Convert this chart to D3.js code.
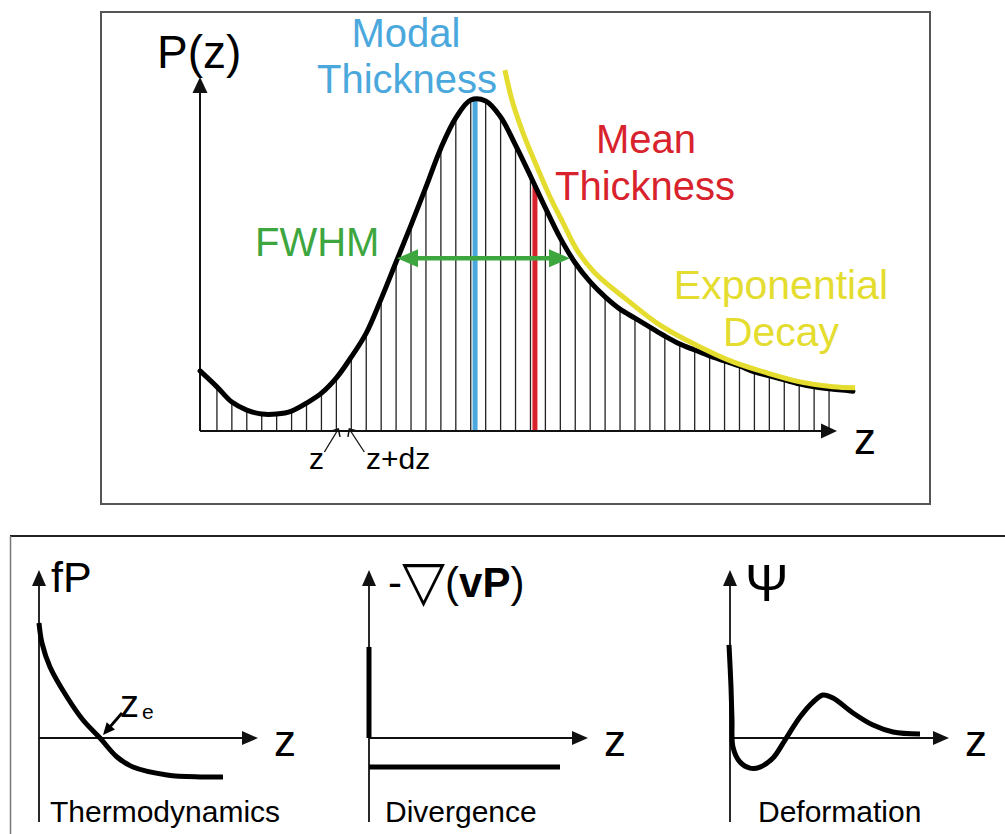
<!DOCTYPE html>
<html><head><meta charset="utf-8">
<script src="https://cdn.jsdelivr.net/npm/d3@7"></script>
<style>
body{margin:0;background:#fff}
svg{display:block}
text{font-family:"Liberation Sans",Arial,Helvetica,sans-serif}
</style>
</head><body>
<svg id="c" width="1005" height="834"></svg>
<script>
// ---------------- DATA ----------------
// Top panel: thickness distribution P(z), sampled at bins z = 1..42 (dz = 1)
const hatchZ = d3.range(1, 43);
const hatchP = [13.3,8.7,6.3,5.1,5.1,6.0,8.4,11.4,16.0,22.3,29.5,39.8,50.9,62.0,73.5,85.2,94.3,99.7,99.4,94.6,86.1,76.8,67.2,58.1,50.6,44.9,40.4,36.7,34.0,31.3,28.6,26.2,24.4,22.6,21.1,19.6,17.8,16.6,15.4,14.2,13.3,12.7];
const curveStart = {z: -0.13, p: 18.1};
const curveEnd = {z: 43.6, p: 12.0};
// Exponential decay (yellow)
const expZ = [20.29,20.76,21.50,22.44,23.31,24.18,25.12,26.32,28.47,30.68,33.36,35.57,37.84,40.05,42.26,43.74];
const expP = [108.7,99.7,89.8,79.5,70.5,62.7,54.5,47.6,39.5,31.9,25.3,20.8,17.5,14.8,13.3,13.0];
// Markers
const modalZ = 18.29, modalP = 100;
const meanZ = 22.3, meanP = 74;
const fwhmZ = [13.06, 24.65], fwhmP = 52;
const dzBins = [9, 10];

// Bottom panels
const thermoZ = [0,0.15,0.55,1.4,2.2,3.05,3.9,4.7,6.4,8.05,9.2];
const thermoF = [6.85,5.65,4.23,2.44,1.07,0,-1.13,-1.73,-2.2,-2.32,-2.32];
const zeCross = 3.05;
const divWallZ = [0, 0], divWallV = [0, 5.42];
const divFlatZ = [0, 9.55], divFlatV = [-1.73, -1.73];
const deformZ = [-0.05,0.05,0.1,0.15,0.5,1.0,1.5,2.15,2.75,3.5,4.15,4.65,5.15,6.15,7.15,8.15,9.5];
const deformPsi = [5.54,3.04,1.07,-0.54,-1.43,-1.79,-1.73,-1.19,-0.12,1.25,2.14,2.56,2.38,1.49,0.77,0.36,0.24];

const BLUE = "#4aa8dc", RED = "#d8232d", GREEN = "#3ea63e", YELLOW = "#e4dc2e";

// ---------------- DRAW ----------------
const svg = d3.select("#c");

svg.append("rect").attr("x",101).attr("y",12).attr("width",829).attr("height",492)
  .attr("fill","none").attr("stroke","#555").attr("stroke-width",2);
svg.append("line").attr("x1",10).attr("y1",536).attr("x2",1005).attr("y2",536)
  .attr("stroke","#222").attr("stroke-width",2);
svg.append("line").attr("x1",10.5).attr("y1",536).attr("x2",10.5).attr("y2",834)
  .attr("stroke","#777").attr("stroke-width",1.5);

function arrowHead(sel, tipX, tipY, angle, len, hw, color) {
  const c = Math.cos(angle), s = Math.sin(angle);
  const bx = tipX - c*len, by = tipY - s*len;
  const pts = [[tipX,tipY],[bx - s*hw, by + c*hw],[bx + s*hw, by - c*hw]];
  sel.append("path").attr("d", "M" + pts.map(p=>p.join(",")).join("L") + "Z")
    .attr("fill", color).attr("stroke","none");
}
const T = (sel, tx, ty, str, size, color, anchor) => sel.append("text").attr("x",tx).attr("y",ty)
  .attr("font-size",size).attr("fill",color||"#000").attr("text-anchor",anchor||"start").text(str);

// ---- top panel ----
const x = d3.scaleLinear().domain([0, 43]).range([202, 202 + 43*14.93]);
const y = d3.scaleLinear().domain([0, 100]).range([431, 99]);
const topG = svg.append("g");

const binData = hatchZ.map((z,i)=>({z, p: hatchP[i]}));
topG.selectAll("line.hatch").data(binData).join("line").attr("class","hatch")
  .attr("x1", d=>x(d.z)).attr("x2", d=>x(d.z))
  .attr("y1", y(0)).attr("y2", d=>y(d.p))
  .attr("stroke","#222").attr("stroke-width",1.3);

topG.append("line").attr("x1",x(modalZ)).attr("x2",x(modalZ)).attr("y1",y(0)).attr("y2",y(modalP))
  .attr("stroke",BLUE).attr("stroke-width",5);
topG.append("line").attr("x1",x(meanZ)).attr("x2",x(meanZ)).attr("y1",y(0)).attr("y2",y(meanP))
  .attr("stroke",RED).attr("stroke-width",5);

const xTip = x.invert(837);
topG.append("line").attr("x1",200).attr("y1",y(0)).attr("x2",x(xTip)-14).attr("y2",y(0))
  .attr("stroke","#111").attr("stroke-width",2);
arrowHead(topG, x(xTip), y(0), 0, 16, 7.5, "#111");
topG.append("line").attr("x1",200).attr("y1",y(0)).attr("x2",200).attr("y2",92)
  .attr("stroke","#111").attr("stroke-width",2);
arrowHead(topG, 200, 77, -Math.PI/2, 16, 7.5, "#111");

const pts = [curveStart, ...binData, curveEnd];
const line = d3.line().x(d=>x(d.z)).y(d=>y(d.p)).curve(d3.curveCatmullRom.alpha(0.5));
topG.append("path").attr("d", line(pts)).attr("fill","none")
  .attr("stroke","#000").attr("stroke-width",5).attr("stroke-linecap","round");

const expPts = expZ.map((z,i)=>({z, p: expP[i]}));
topG.append("path").attr("d", line(expPts)).attr("fill","none")
  .attr("stroke",YELLOW).attr("stroke-width",5);

const fy = y(fwhmP), fx1 = x(fwhmZ[0]), fx2 = x(fwhmZ[1]);
topG.append("line").attr("x1",fx1+18).attr("x2",fx2-18).attr("y1",fy).attr("y2",fy)
  .attr("stroke",GREEN).attr("stroke-width",4.5);
arrowHead(topG, fx1, fy, Math.PI, 21, 9, GREEN);
arrowHead(topG, fx2, fy, 0, 21, 9, GREEN);

function smallArrow(sel, tx, ty, fx, fy) {
  const a = Math.atan2(ty-fy, tx-fx);
  sel.append("line").attr("x1",fx).attr("y1",fy).attr("x2",tx).attr("y2",ty)
    .attr("stroke","#111").attr("stroke-width",1.3);
  const L = 8, w = 0.75;
  const p1 = [tx - L*Math.cos(a-w), ty - L*Math.sin(a-w)];
  const p2 = [tx - L*Math.cos(a+w), ty - L*Math.sin(a+w)];
  sel.append("path").attr("d",`M${p1}L${tx},${ty}L${p2}`).attr("fill","none")
    .attr("stroke","#111").attr("stroke-width",1.5);
}
smallArrow(topG, x(dzBins[0])+2, y(0)-2, x(dzBins[0])-12, y(0)+21);
smallArrow(topG, x(dzBins[1])-2, y(0)-2, x(dzBins[1])+13, y(0)+21);

T(topG, 157, 68, "P(z)", 46);
T(topG, 406, 47, "Modal", 40, BLUE, "middle");
T(topG, 407, 93, "Thickness", 40, BLUE, "middle");
T(topG, 646, 153, "Mean", 40, RED, "middle");
T(topG, 645, 200, "Thickness", 40, RED, "middle");
T(topG, 255, 256, "FWHM", 40, GREEN);
T(topG, 781, 299, "Exponential", 41, YELLOW, "middle");
T(topG, 781, 346, "Decay", 41, YELLOW, "middle");
T(topG, 854, 454, "z", 44);
T(topG, 309, 469, "z", 30);
T(topG, 366, 469, "z+dz", 30);

// ---- bottom panels ----
function panel(ox) {
  const px = d3.scaleLinear().domain([0, 11]).range([ox, ox + 220]);
  const py = d3.scaleLinear().domain([-5, 10]).range([822, 570]);
  const g = svg.append("g");
  g.append("line").attr("x1",ox).attr("x2",ox).attr("y1",822).attr("y2",584)
    .attr("stroke","#111").attr("stroke-width",1.8);
  arrowHead(g, ox, 570, -Math.PI/2, 16, 7, "#111");
  g.append("line").attr("x1",ox).attr("x2",ox+206).attr("y1",py(0)).attr("y2",py(0))
    .attr("stroke","#111").attr("stroke-width",1.8);
  arrowHead(g, ox+219, py(0), 0, 16, 7, "#111");
  T(g, ox+235, 756, "z", 44);
  return {g, px, py};
}
const curve = d3.curveCatmullRom.alpha(0.5);

const p1 = panel(39);
p1.g.append("path").attr("d", d3.line().x(d=>p1.px(d)).y((d,i)=>p1.py(thermoF[i])).curve(curve)(thermoZ))
  .attr("fill","none").attr("stroke","#000").attr("stroke-width",5);
T(p1.g, 51, 592, "fP", 43);
{
  const tx = p1.px(zeCross)+3, ty = p1.py(0)-3;
  p1.g.append("line").attr("x1",tx+19).attr("y1",ty-22).attr("x2",tx+6).attr("y2",ty-7)
    .attr("stroke","#000").attr("stroke-width",2.8);
  arrowHead(p1.g, tx, ty, Math.atan2(22,-19), 12, 5.5, "#000");
  T(p1.g, 120, 717, "z", 38);
  p1.g.append("text").attr("x",142).attr("y",719).attr("font-size",21).text("e");
}
T(p1.g, 50, 822, "Thermodynamics", 30);

const p2 = panel(369);
const l2 = d3.line().x(d=>d[0]).y(d=>d[1]);
p2.g.append("path").attr("d", l2(divWallZ.map((z,i)=>[p2.px(z), p2.py(divWallV[i])])))
  .attr("fill","none").attr("stroke","#000").attr("stroke-width",5);
p2.g.append("path").attr("d", l2(divFlatZ.map((z,i)=>[p2.px(z), p2.py(divFlatV[i])])))
  .attr("fill","none").attr("stroke","#000").attr("stroke-width",5);
{
  const t = p2.g.append("text").attr("x",388).attr("y",597).attr("font-size",42);
  t.append("tspan").text("-");
  t.append("tspan").attr("font-family","DejaVu Sans").attr("font-size",56).attr("dy",3).text("\u25BD");
  t.append("tspan").attr("dy",-3).text("(");
  t.append("tspan").attr("font-weight","bold").text("vP");
  t.append("tspan").text(")");
}
T(p2.g, 385, 822, "Divergence", 30);

const p3 = panel(730);
p3.g.append("path").attr("d", d3.line().x(d=>p3.px(d)).y((d,i)=>p3.py(deformPsi[i])).curve(curve)(deformZ))
  .attr("fill","none").attr("stroke","#000").attr("stroke-width",5);
T(p3.g, 745, 601, "\u03A8", 52);
T(p3.g, 758, 822, "Deformation", 30);
</script>
</body></html>
